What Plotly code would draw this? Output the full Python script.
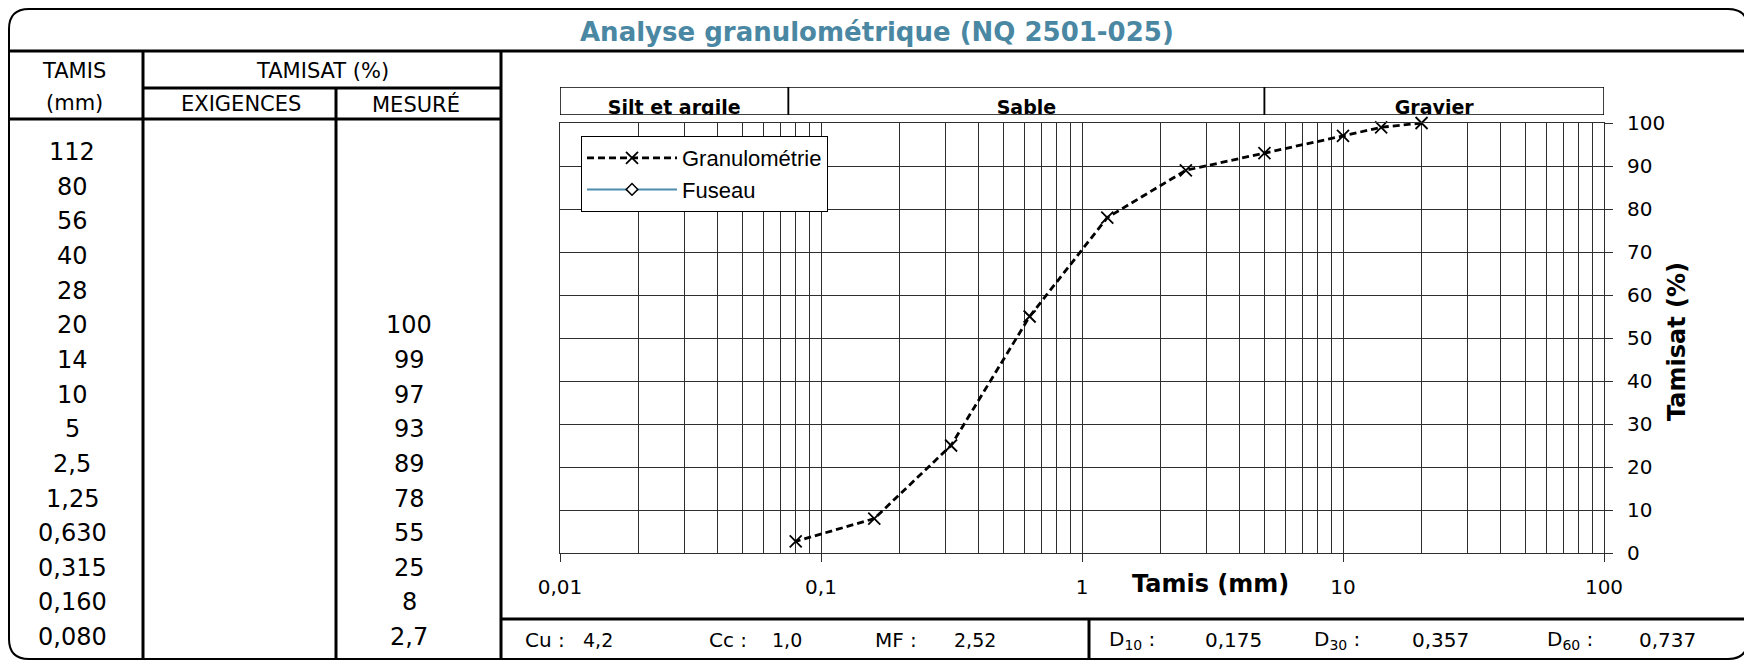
import plotly.graph_objects as go

# ---------------- data ----------------
tamis_labels = ["112", "80", "56", "40", "28", "20", "14", "10", "5", "2,5",
                "1,25", "0,630", "0,315", "0,160", "0,080"]
sieve_mm = [20, 14, 10, 5, 2.5, 1.25, 0.63, 0.315, 0.16, 0.08]
passing_pct = [100, 99, 97, 93, 89, 78, 55, 25, 8, 2.7]
x_tick_vals = [0.01, 0.1, 1, 10, 100]
x_tick_text = ["0,01", "0,1", "1", "10", "100"]
y_tick_vals = [0, 10, 20, 30, 40, 50, 60, 70, 80, 90, 100]
band_names = ["Silt et argile", "Sable", "Gravier"]
band_edges_mm = [0.01, 0.075, 5, 100]
stat_labels_left = ["Cu :", "Cc :", "MF :"]
stat_values_left = ["4,2", "1,0", "2,52"]
stat_labels_right = ["D<sub>10</sub> :", "D<sub>30</sub> :", "D<sub>60</sub> :"]
stat_values_right = ["0,175", "0,357", "0,737"]

# ---------------- helpers ----------------
PAGE_W, PAGE_H = 1752, 662
OFF = 8                      # default page margin of the html body
W, H = PAGE_W - OFF, PAGE_H - OFF
FONT = "DejaVu Sans"
TITLE_COLOR = "#4A87A3"
GRID = "#2e2e2e"


def fx(p):
    return (p - OFF) / W


def fy(p):
    return 1 - (p - OFF) / H


def fmt(v):
    if float(v).is_integer():
        return str(int(v))
    return str(v).replace(".", ",")


mesure_labels = [""] * (len(tamis_labels) - len(passing_pct)) + [fmt(v) for v in passing_pct]

shapes = []
annotations = []


def hline(y, x0, x1, w=3):
    shapes.append(dict(type="line", xref="paper", yref="paper", x0=fx(x0), x1=fx(x1),
                       y0=fy(y), y1=fy(y), line=dict(color="black", width=w)))


def vline(x, y0, y1, w=3):
    shapes.append(dict(type="line", xref="paper", yref="paper", x0=fx(x), x1=fx(x),
                       y0=fy(y0), y1=fy(y1), line=dict(color="black", width=w)))


def text(x, y, s, size, anchor="center", bold=False, color="black", family=FONT, angle=0):
    if bold:
        s = "<b>" + s + "</b>"
    annotations.append(dict(x=fx(x), y=fy(y), xref="paper", yref="paper", text=s,
                            showarrow=False, xanchor=anchor, yanchor="middle",
                            textangle=angle,
                            font=dict(family=family, size=size, color=color)))


# outer rounded frame
L, T, R, B, r = 9, 9, 1748, 659, 20
rx, ry = r / W, r / H
path = (f"M {fx(L)+rx},{fy(T)} L {fx(R)-rx},{fy(T)} Q {fx(R)},{fy(T)} {fx(R)},{fy(T)-ry} "
        f"L {fx(R)},{fy(B)+ry} Q {fx(R)},{fy(B)} {fx(R)-rx},{fy(B)} "
        f"L {fx(L)+rx},{fy(B)} Q {fx(L)},{fy(B)} {fx(L)},{fy(B)+ry} "
        f"L {fx(L)},{fy(T)-ry} Q {fx(L)},{fy(T)} {fx(L)+rx},{fy(T)} Z")
shapes.append(dict(type="path", xref="paper", yref="paper", path=path,
                   line=dict(color="black", width=2)))

# table grid
hline(51, L, R)
vline(501, 51, B)
vline(143, 51, B)
vline(336, 88, B)
hline(88, 143, 501)
hline(119, L, 501)
hline(619, 501, R)
vline(1089, 619, B)

# title
text(877, 32, "Analyse granulométrique (NQ 2501-025)", 26, bold=True, color=TITLE_COLOR)

# headers
text(74, 71, "TAMIS", 21)
text(74, 103, "(mm)", 21)
text(322, 71, "TAMISAT (%)", 21)
text(241, 104, "EXIGENCES", 21)
text(416, 104, "MESURÉ", 21)

# table rows
row0, step = 152, 34.65
for i, (t, m) in enumerate(zip(tamis_labels, mesure_labels)):
    y = row0 + i * step
    text(72, y, t, 24)
    if m:
        text(409, y, m, 24)

# stats row
left_lab_x = [523, 707, 873]
left_val_x = [581, 770, 952]
for s, v, xl, xv in zip(stat_labels_left, stat_values_left, left_lab_x, left_val_x):
    text(xl, 640, s, 20, anchor="left")
    text(xv, 640, v, 19, anchor="left")
right_lab_x = [1107, 1312, 1545]
right_val_x = [1203, 1410, 1637]
for s, v, xl, xv in zip(stat_labels_right, stat_values_right, right_lab_x, right_val_x):
    text(xl, 640, s, 20, anchor="left")
    text(xv, 640, v, 20, anchor="left")

# axis titles
text(1210, 584, "Tamis (mm)", 24, bold=True)
text(1677, 342, "Tamisat (%)", 24, bold=True, angle=-90)

# band boxes (on the hidden band subplot)
for a, b in zip(band_edges_mm[:-1], band_edges_mm[1:]):
    shapes.append(dict(type="rect", xref="x2", yref="y2", x0=a, x1=b, y0=0, y1=1,
                       line=dict(color="black", width=1.5)))
band_centers = [(a * b) ** 0.5 for a, b in zip(band_edges_mm[:-1], band_edges_mm[1:])]

# minor grid values
minor_vals = []
for d in x_tick_vals[:-1]:
    for k in range(2, 10):
        minor_vals.append(d * k)

fig = go.Figure()
fig.add_trace(go.Scatter(
    x=sieve_mm, y=passing_pct, name="Granulométrie", mode="lines+markers",
    line=dict(color="black", width=2.8, dash="7px,4px"),
    marker=dict(symbol="x-thin", size=12, line=dict(color="black", width=1.8), color="black"),
    cliponaxis=False,
))
fig.add_trace(go.Scatter(
    x=[None], y=[None], name="Fuseau", mode="lines+markers",
    line=dict(color="#4F8DAE", width=2),
    marker=dict(symbol="diamond", size=9, color="white", line=dict(color="black", width=1.5)),
))
fig.add_trace(go.Scatter(
    x=band_centers, y=[0.22] * len(band_centers), mode="text",
    text=["<b>" + n + "</b>" for n in band_names],
    textfont=dict(family=FONT, size=19, color="black"),
    xaxis="x2", yaxis="y2", showlegend=False, hoverinfo="skip", cliponaxis=True,
))

dom_x = [fx(560), fx(1604)]
fig.update_layout(
    width=W, height=H,
    margin=dict(l=0, r=0, t=0, b=0, pad=0, autoexpand=False),
    paper_bgcolor="white", plot_bgcolor="white",
    shapes=shapes, annotations=annotations,
    showlegend=True,
    legend=dict(x=fx(581), y=fy(136), xanchor="left", yanchor="top",
                bgcolor="white", bordercolor="black", borderwidth=1,
                font=dict(family="Liberation Sans, Arial", size=22, color="black"),
                itemwidth=90, tracegroupgap=0),
    xaxis=dict(domain=dom_x, type="log", range=[-2, 2], anchor="y", automargin=False,
               tickvals=x_tick_vals, ticktext=x_tick_text,
               ticks="outside", ticklen=8, tickcolor=GRID, tickwidth=1,
               ticklabelstandoff=8,
               showgrid=True, gridcolor=GRID, gridwidth=1,
               showline=True, linecolor=GRID, linewidth=1, mirror=True,
               zeroline=False,
               minor=dict(tickvals=minor_vals, showgrid=True, gridcolor=GRID,
                          gridwidth=1, ticks=""),
               tickfont=dict(family=FONT, size=20, color="black")),
    yaxis=dict(domain=[fy(553), fy(123)], range=[0, 100], anchor="x", side="right",
               automargin=False,
               tickvals=y_tick_vals, ticks="outside", ticklen=8, tickcolor=GRID,
               ticklabelstandoff=10,
               showgrid=True, gridcolor=GRID, gridwidth=1,
               showline=True, linecolor=GRID, linewidth=1, mirror=True,
               zeroline=False,
               tickfont=dict(family=FONT, size=20, color="black")),
    xaxis2=dict(domain=dom_x, type="log", range=[-2, 2], anchor="y2", visible=False,
                automargin=False),
    yaxis2=dict(domain=[fy(115), fy(87)], range=[0, 1], anchor="x2", visible=False,
                automargin=False),
)

fig.write_html("out.html")
